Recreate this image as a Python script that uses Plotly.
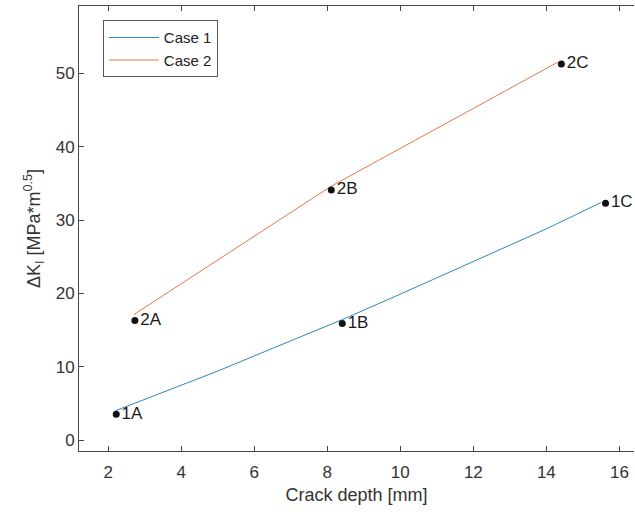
import plotly.graph_objects as go

# Data
case1_x = [2.2, 3.5, 5.0, 6.5, 8.4, 10.0, 12.0, 14.0, 15.5]
case1_y = [4.0, 6.5, 9.4, 12.5, 16.4, 19.9, 24.3, 28.8, 32.4]
case2_x = [2.7, 8.1, 14.3]
case2_y = [17.1, 34.6, 51.5]
pt_labels = ["1A", "1B", "1C", "2A", "2B", "2C"]
pt_x = [2.22, 8.41, 15.62, 2.73, 8.11, 14.41]
pt_y = [3.5, 15.9, 32.3, 16.3, 34.1, 51.3]
x_ticks = [2, 4, 6, 8, 10, 12, 14, 16]
y_ticks = [0, 10, 20, 30, 40, 50]

FONT = "Liberation Sans, Arial, sans-serif"
AX = "#474747"

fig = go.Figure()
fig.add_trace(go.Scatter(x=case1_x, y=case1_y, mode="lines", name="Case 1",
                         line=dict(color="#2E86C1", width=1)))
fig.add_trace(go.Scatter(x=case2_x, y=case2_y, mode="lines", name="Case 2",
                         line=dict(color="#E07A4A", width=1)))
fig.add_trace(go.Scatter(x=pt_x, y=pt_y, mode="markers+text", text=pt_labels,
                         textposition="middle right", showlegend=False,
                         marker=dict(color="#111111", size=7),
                         textfont=dict(family=FONT, size=17, color="#1a1a1a")))

fig.update_layout(
    width=635, height=512,
    margin=dict(l=79, r=1, t=6, b=61),
    paper_bgcolor="white", plot_bgcolor="white",
    font=dict(family=FONT, size=17, color="#333333"),
    showlegend=True,
    legend=dict(x=0.043, y=0.968, xanchor="left", yanchor="top",
                bgcolor="white", bordercolor="#555555", borderwidth=1,
                font=dict(family=FONT, size=15, color="#222222"),
                tracegroupgap=0, itemwidth=50),
    xaxis=dict(range=[1.2, 16.4], tickvals=x_ticks, ticks="inside", ticklen=5,
               tickcolor=AX, showline=True, linecolor=AX, linewidth=1,
               mirror="ticks", showgrid=False, zeroline=False,
               ticklabelstandoff=6,
               tickfont=dict(size=17, color="#333333"),
               title=dict(text="Crack depth [mm]", standoff=6,
                          font=dict(size=18, color="#333333"))),
    yaxis=dict(range=[-1.5, 59.2], tickvals=y_ticks, ticks="inside", ticklen=5,
               tickcolor=AX, showline=True, linecolor=AX, linewidth=1,
               showgrid=False, zeroline=False,
               tickfont=dict(size=17, color="#333333"),
               title=dict(text="ΔK<sub>I</sub> [MPa*m<sup>0.5</sup>]", standoff=10,
                          font=dict(size=18, color="#333333"))),
)

fig.write_html("out.html")
